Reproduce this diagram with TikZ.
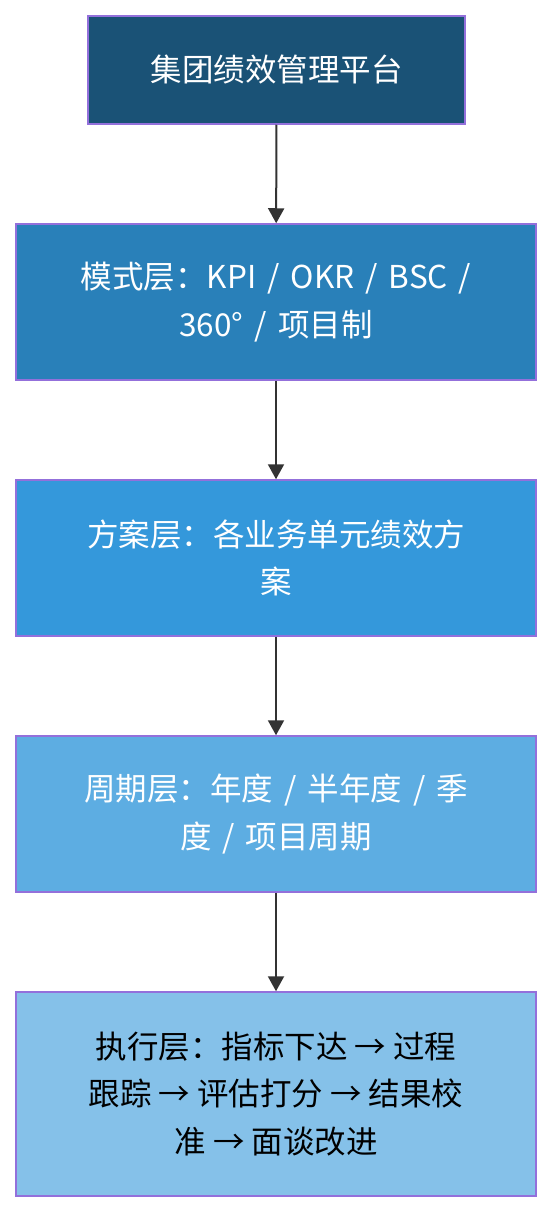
\documentclass[tikz,border=0pt]{standalone}
\usepackage{fontspec}
\setmainfont{Noto Sans CJK SC}
\usetikzlibrary{arrows.meta}
\definecolor{cA}{HTML}{1A5276}
\definecolor{cB}{HTML}{2980B9}
\definecolor{cC}{HTML}{3498DB}
\definecolor{cD}{HTML}{5DADE2}
\definecolor{cE}{HTML}{85C1E9}
\definecolor{bordc}{HTML}{9370DB}
\definecolor{linec}{HTML}{333333}
\newcommand{\myslash}{\hspace{0.35em}/\hspace{0.35em}}
\begin{document}
\begin{tikzpicture}[x=1pt,y=-1pt,
  box/.style={draw=bordc, line width=1.5pt, align=center, inner sep=0pt,
    font=\fontsize{31.5}{47.5}\selectfont, text=white},
  conn/.style={draw=linec, line width=2pt, -{Triangle[length=15pt,width=16pt]}}]
\useasboundingbox (0,0) rectangle (552,1212);
\node[box, fill=cA, minimum width=377pt, minimum height=108pt] (n1) at (276.5,70) {集团绩效管理平台};
\node[box, fill=cB, minimum width=520pt, minimum height=156pt] (n2) at (276,302) {模式层：KPI\myslash OKR\myslash BSC\myslash\\360°\myslash 项目制};
\node[box, fill=cC, minimum width=520pt, minimum height=156pt] (n3) at (276,558) {方案层：各业务单元绩效方\\案};
\node[box, fill=cD, minimum width=520pt, minimum height=156pt] (n4) at (276,814) {周期层：年度\myslash 半年度\myslash 季\\度\myslash 项目周期};
\node[box, fill=cE, text=black, minimum width=520pt, minimum height=204pt] (n5) at (276,1094) {执行层：指标下达 → 过程\\跟踪 → 评估打分 → 结果校\\准 → 面谈改进};
\draw[conn] (n1) -- (n2);
\draw[conn] (n2) -- (n3);
\draw[conn] (n3) -- (n4);
\draw[conn] (n4) -- (n5);
\end{tikzpicture}
\end{document}
